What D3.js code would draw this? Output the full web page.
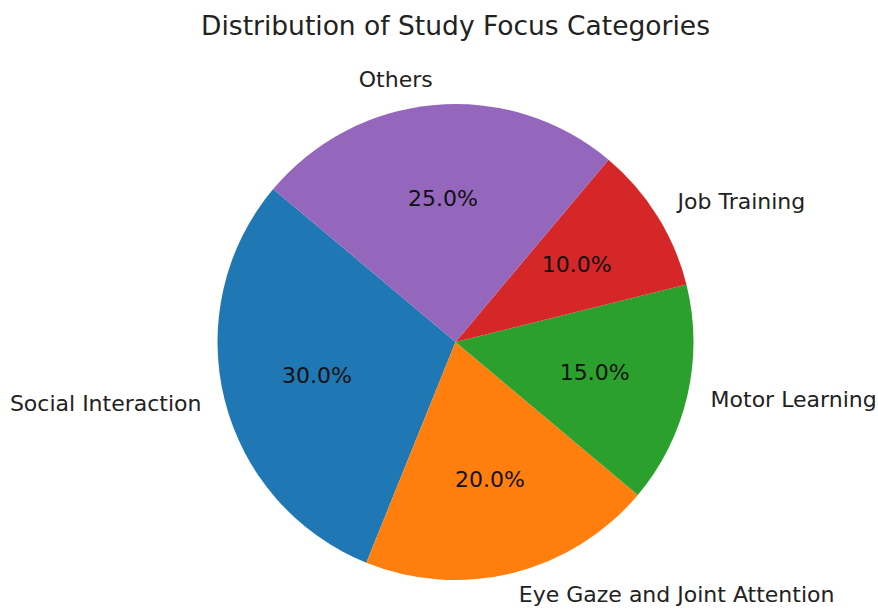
<!DOCTYPE html>
<html>
<head>
<meta charset='utf-8' />
<title>Distribution of Study Focus Categories</title>
<script src="https://d3js.org/d3.v7.min.js"></script>
<style>
body { margin: 0; padding: 0; background: #fff; }
text { font-family: "DejaVu Sans", sans-serif; }
</style>
</head>
<body>
<div id="chart"></div>
<script>

// data
var categories = ["Social Interaction", "Eye Gaze and Joint Attention", "Motor Learning", "Job Training", "Others"];
var shares = [30, 20, 15, 10, 25];
var colors = ["#1f77b4", "#ff7f0e", "#2ca02c", "#d62728", "#9467bd"];

var width = 878, height = 609;
var cx = 455.5, cy = 342, radius = 238;

var svg = d3.select("#chart")
  .append("svg")
    .attr("width", width)
    .attr("height", height);

svg.append("text")
  .attr("x", cx)
  .attr("y", 27)
  .attr("text-anchor", "middle")
  .attr("dominant-baseline", "middle")
  .style("font-size", "26.5px")
  .style("fill", "#222")
  .text("Distribution of Study Focus Categories");

// matplotlib startangle=140, counterclockwise
var start = (90 - 140) * Math.PI / 180;
var pie = d3.pie()
  .sort(null)
  .value(function(d) { return d; })
  .startAngle(start)
  .endAngle(start - 2 * Math.PI);

var arcs = pie(shares);
var arc = d3.arc().innerRadius(0).outerRadius(radius);

var g = svg.append("g")
  .attr("transform", "translate(" + cx + "," + cy + ")");

g.selectAll("path.slice")
  .data(arcs)
  .enter()
  .append("path")
    .attr("class", "slice")
    .attr("d", arc)
    .style("fill", function(d, i) { return colors[i]; });

function mid(d) { return (d.startAngle + d.endAngle) / 2; }

// category labels at 1.1 r
g.selectAll("text.lab")
  .data(arcs)
  .enter()
  .append("text")
    .attr("class", "lab")
    .attr("x", function(d) { return Math.sin(mid(d)) * radius * 1.1; })
    .attr("y", function(d) { return -Math.cos(mid(d)) * radius * 1.1; })
    .attr("text-anchor", function(d) { return Math.sin(mid(d)) > 0 ? "start" : "end"; })
    .attr("dominant-baseline", "middle")
    .style("font-size", "22px")
    .style("fill", "#222")
    .text(function(d, i) { return categories[i]; });

// percent labels at 0.6 r
var total = d3.sum(shares);
g.selectAll("text.pct")
  .data(arcs)
  .enter()
  .append("text")
    .attr("class", "pct")
    .attr("x", function(d) { return Math.sin(mid(d)) * radius * 0.6; })
    .attr("y", function(d) { return -Math.cos(mid(d)) * radius * 0.6; })
    .attr("text-anchor", "middle")
    .attr("dominant-baseline", "middle")
    .style("font-size", "22px")
    .style("fill", "#111")
    .text(function(d) { return (d.data / total * 100).toFixed(1) + "%"; });

</script>
</body>
</html>
